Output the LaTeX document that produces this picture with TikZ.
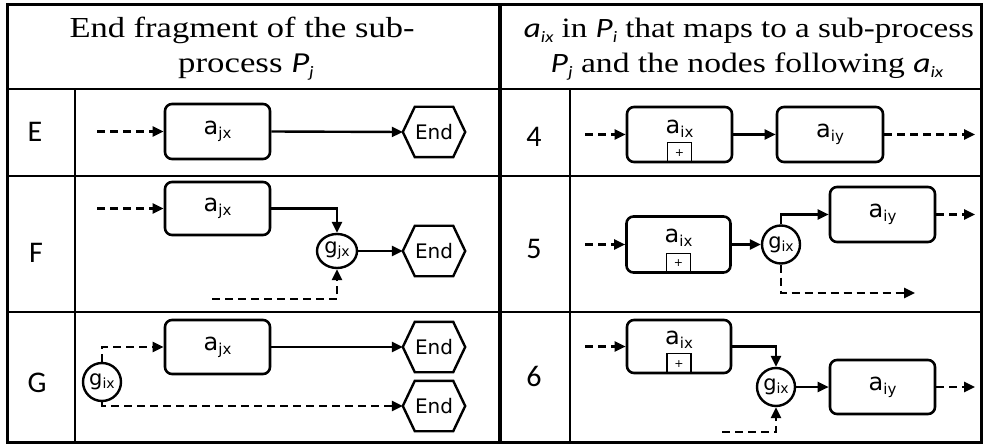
\documentclass[tikz,border=0pt]{standalone}
\usepackage{fontspec}
\setmainfont{Liberation Serif}
\newfontfamily\carl{Carlito}
\newfontfamily\dvs{DejaVu Sans}
\usetikzlibrary{arrows.meta,shapes.geometric}
\newcommand\atxt[1]{{\dvs\fontsize{24}{24}\selectfont a\raisebox{-4pt}{\fontsize{15}{15}\selectfont #1}}}
\newcommand\gtxt[1]{{\dvs\fontsize{21}{21}\selectfont g\raisebox{-3pt}{\fontsize{14}{14}\selectfont #1}}}
\newcommand\hsub[2]{{\carl\itshape #1\raisebox{-5pt}{\fontsize{16}{16}\selectfont #2}}}
\newcommand\hexend[3]{%
  \node[endn] (#1) at (#2,#3) {End};
  \draw[line width=2.4pt, line join=miter] (#1.west) -- ([xshift=12pt]#1.north west) -- ([xshift=-12pt]#1.north east) -- (#1.east) -- ([xshift=-12pt]#1.south east) -- ([xshift=12pt]#1.south west) -- cycle;}
\begin{document}
\begin{tikzpicture}[x=1pt,y=-1pt,
  hdr/.style={anchor=base, inner sep=0, font=\fontsize{28}{32}\selectfont},
  lbl/.style={inner sep=0, font=\carl\fontsize{30}{30}\selectfont},
  box/.style={draw, line width=2.6pt, rounded corners=7pt, inner sep=0, minimum width=105pt, minimum height=55pt},
  endn/.style={inner sep=0, minimum width=62pt, minimum height=50pt, font=\dvs\fontsize{20}{20}\selectfont},
  gw/.style={draw, circle, line width=2.4pt, minimum size=38pt, inner sep=0},
  plusbox/.style={draw, line width=1.3pt, minimum width=24pt, minimum height=20pt, inner sep=0, anchor=south, font=\dvs\fontsize{11}{11}\selectfont},
  conn/.style={line width=2.4pt, -{Triangle[length=11pt,width=10pt]}},
  dconn/.style={conn, dash pattern=on 8pt off 5pt},
  thin/.style={line width=1.2pt}]
\useasboundingbox (0,0) rectangle (984,446);
% table frame
\draw[thin] (7,89) -- (981,89);
\draw[thin] (7,176) -- (981,176);
\draw[thin] (7,312) -- (981,312);
\draw[thin] (75,89) -- (75,442);
\draw[thin] (570,89) -- (570,442);
\draw[line width=3.5pt] (500,5) -- (500,442);
\draw[line width=3pt] (7,5) rectangle (981,442);
% headers
\node[hdr, font=\fontsize{29}{34}\selectfont] (h1) at (242,38) {\scalebox{1.19}[1]{End fragment of the sub-}};
\node[hdr, font=\fontsize{29}{34}\selectfont] (h2) at (246,73) {\scalebox{1.2}[1]{process \hsub{P}{j}}};
\node[hdr] (h3) at (749,38) {\scalebox{1.18}[1]{\hsub{a}{ix} in \hsub{P}{i} that maps to a sub-process}};
\node[hdr] (h4) at (747,73) {\scalebox{1.2}[1]{\hsub{P}{j} and the nodes following \hsub{a}{ix}}};
% labels
\node[lbl] (lE) at (35,132) {E};
\node[lbl] (lF) at (36,253) {F};
\node[lbl] (lG) at (37,383) {G};
\node[lbl] (l4) at (534,137) {4};
\node[lbl] (l5) at (534,249) {5};
\node[lbl] (l6) at (534,376) {6};
% Row E
\node[box] (aE) at (217.5,131.5) {\atxt{jx}};
\hexend{eE}{434}{132}
\coordinate (sE) at (97,131.5);
\draw[dconn] (sE) -- (aE.west);
\draw[conn] (aE.east) -- (eE.west);
% Row F
\node[box, minimum height=53pt] (aF) at (217.5,208.5) {\atxt{jx}};
\node[draw, ellipse, line width=2.4pt, minimum width=40pt, minimum height=34pt, inner sep=0] (gF) at (337,251) {\gtxt{jx}};
\hexend{eF}{434}{251}
\coordinate (sF) at (97,208.5);
\coordinate (sF2) at (212,299);
\draw[dconn] (sF) -- (aF.west);
\draw[conn] (aF.east) -| (gF.north);
\draw[conn] (gF.east) -- (eF.west);
\draw[dconn] (sF2) -| (gF.south);
% Row G
\node[box, minimum height=54pt] (aG) at (217.5,347) {\atxt{jx}};
\node[gw] (gG) at (102,382) {\gtxt{ix}};
\hexend{eG1}{434}{347}
\hexend{eG2}{434}{406}
\draw[dconn] (gG.north) |- (aG.west);
\draw[conn] (aG.east) -- (eG1.west);
\draw[dconn] (gG.south) |- (eG2.west);
% Row 4
\node[box] (a4) at (679.5,134.5) {};
\node[inner sep=0] (t4) at ([yshift=6pt]a4.center) {\atxt{ix}};
\node[plusbox] (p4) at (a4.south) {+};
\node[box, minimum width=106pt] (b4) at (830,134.5) {\atxt{iy}};
\coordinate (s4) at (585,134.5);
\coordinate (e4) at (975,134.5);
\draw[dconn] (s4) -- (a4.west);
\draw[conn] (a4.east) -- (b4.west);
\draw[dconn] (b4.east) -- (e4);
% Row 5
\node[box, minimum width=104pt, minimum height=56pt] (a5) at (678.5,244.5) {};
\node[inner sep=0] (t5) at ([yshift=7pt]a5.center) {\atxt{ix}};
\node[plusbox] (p5) at (a5.south) {+};
\node[gw] (g5) at (781,244.5) {\gtxt{ix}};
\node[box] (b5) at (882.5,214.5) {\atxt{iy}};
\coordinate (s5) at (585,244.5);
\coordinate (e5) at (975,214.5);
\coordinate (e5b) at (915,293);
\draw[dconn] (s5) -- (a5.west);
\draw[conn] (a5.east) -- (g5.west);
\draw[conn] (g5.north) |- (b5.west);
\draw[dconn] (b5.east) -- (e5);
\draw[dconn] (g5.south) |- (e5b);
% Row 6
\node[box, minimum width=104pt, minimum height=53pt] (a6) at (679,346.5) {};
\node[inner sep=0] (t6) at ([yshift=7pt]a6.center) {\atxt{ix}};
\node[plusbox] (p6) at (a6.south) {+};
\node[gw] (g6) at (776,387) {\gtxt{ix}};
\node[box, minimum height=54pt] (b6) at (882.5,387) {\atxt{iy}};
\coordinate (s6) at (585,346.5);
\coordinate (e6) at (975,387);
\coordinate (s6b) at (722,432);
\draw[dconn] (s6) -- (a6.west);
\draw[conn] (a6.east) -| (g6.north);
\draw[conn] (g6.east) -- (b6.west);
\draw[dconn] (b6.east) -- (e6);
\draw[dconn] (s6b) -| (g6.south);
\end{tikzpicture}
\end{document}
